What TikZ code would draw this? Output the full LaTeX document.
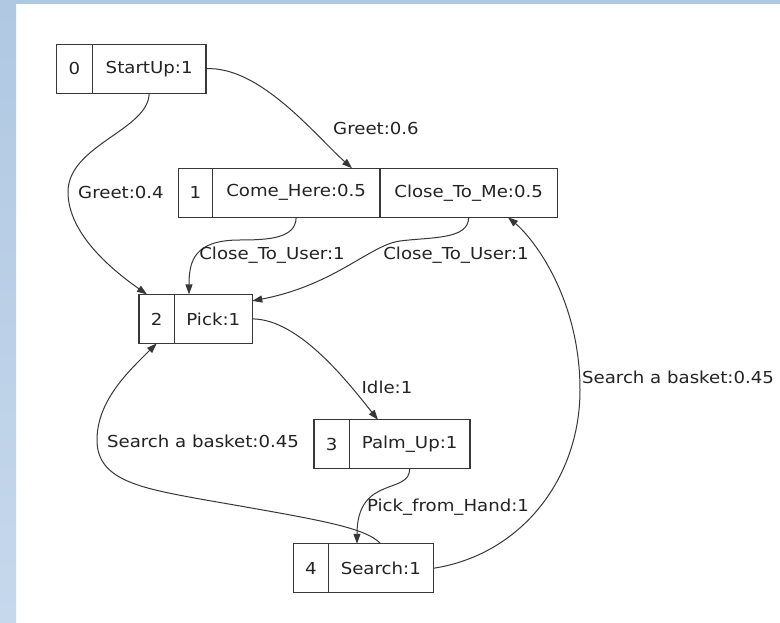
\documentclass[tikz,border=0pt]{standalone}
\usepackage{fontspec}
\setmainfont{DejaVu Sans}[FakeStretch=1.1]
\usetikzlibrary{arrows.meta}
\definecolor{frameblue}{RGB}{176,200,226}
\definecolor{frameblueb}{RGB}{198,216,236}
\definecolor{ink}{RGB}{35,35,35}
\definecolor{edgeink}{RGB}{55,55,55}
\begin{document}
\begin{tikzpicture}[x=1pt,y=-1pt,
  cell/.style={draw=edgeink, line width=1.2pt, rectangle, minimum height=49pt,
    inner sep=0pt, outer sep=0pt, text=ink, font=\fontsize{16.5}{16.5}\selectfont},
  lbl/.style={text=ink, inner sep=0pt, font=\fontsize{16.5}{16.5}\selectfont},
  link/.style={draw=edgeink, line width=1pt, -{Triangle[length=10pt,width=7pt]}}]

% page and the blue frame strips
\useasboundingbox (0,0) rectangle (780,623);
\fill[white] (0,0) rectangle (780,623);
\shade[top color=frameblue, bottom color=frameblueb] (0,0) rectangle (16,623);
\fill[frameblue] (0,0) rectangle (780,4);

% state records: number cell + action cells
\node[cell, minimum width=35.8pt]  (s0)  at (74.4,68.7)   {0};
\node[cell, minimum width=113.7pt] (l0)  at (149.15,68.7) {StartUp:1};

\node[cell, minimum width=34pt]    (s1)  at (195.3,192.75)  {1};
\node[cell, minimum width=167.7pt] (l1a) at (296.15,192.75) {Come\_Here:0.5};
\node[cell, minimum width=177.3pt] (l1b) at (468.65,192.75) {Close\_To\_Me:0.5};

\node[cell, minimum width=35.3pt]  (s2)  at (156.65,318.9) {2};
\node[cell, minimum width=78pt]    (l2)  at (213.3,318.9)  {Pick:1};

\node[cell, minimum width=35.3pt]  (s3)  at (331.65,444.3) {3};
\node[cell, minimum width=120.7pt] (l3)  at (409.65,444.3) {Palm\_Up:1};

\node[cell, minimum width=35pt]    (s4)  at (310.8,568.3) {4};
\node[cell, minimum width=105pt]   (l4)  at (380.8,568.3) {Search:1};

% transitions
\draw[link] (l0.east) .. controls (260,66) and (315,135) .. ([xshift=55.85pt]l1a.north);
\draw[link] (l0.south) .. controls (149,130) and (68,145) .. (68,192)
  .. controls (68,235) and (115,272) .. ([xshift=-9.65pt]s2.north);
\draw[link] (l1a.south) .. controls (296,238) and (270,240) .. (240,240)
  .. controls (195,240) and (189,260) .. ([xshift=-24.3pt]l2.north);
\draw[link] (l1b.south) .. controls (469,240) and (430,237) .. (400,241)
  .. controls (370,245) and (335,285) .. ([yshift=18pt]l2.east);
\draw[link] (l2.east) .. controls (300,319) and (350,385) .. ([xshift=-31.65pt]l3.north);
\draw[link] (l3.south) .. controls (410,495) and (357,475) .. ([xshift=-23.8pt]l4.north);
\draw[link] (l4.north) .. controls (365,527) and (320,520) .. (200,499)
  .. controls (140,488) and (97,480) .. (97,440)
  .. controls (97,400) and (130,370) .. (s2.south);
\draw[link] (l4.east) .. controls (520,555) and (580,480) .. (580,390)
  .. controls (580,300) and (535,240) .. ([xshift=39.35pt]l1b.south);

% transition labels
\node[lbl] (t01) at (376,128) {Greet:0.6};
\node[lbl] (t02) at (121,192) {Greet:0.4};
\node[lbl] (t12a) at (272,255) {Close\_To\_User:1};
\node[lbl] (t12b) at (456,255) {Close\_To\_User:1};
\node[lbl] (t23) at (387,387) {Idle:1};
\node[lbl] (t34) at (448,507) {Pick\_from\_Hand:1};
\node[lbl] (t42) at (203,441) {Search a basket:0.45};
\node[lbl] (t41) at (678,377) {Search a basket:0.45};
\end{tikzpicture}
\end{document}
